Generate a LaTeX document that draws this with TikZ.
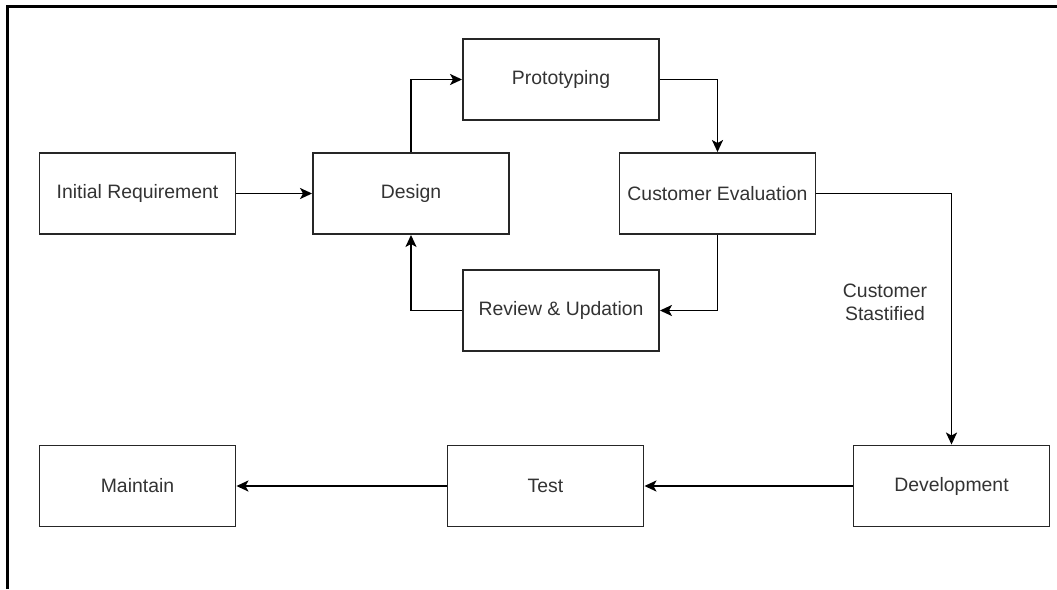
\documentclass[tikz,border=0pt]{standalone}
\usepackage{fontspec}
\setmainfont{Liberation Sans}
\usetikzlibrary{arrows.meta}
\definecolor{txt}{gray}{0.2}
\begin{document}
\begin{tikzpicture}[x=1pt,y=-1pt,
  box/.style={draw=black!85, line width=1.9pt, fill=white, minimum width=196pt, minimum height=81pt, inner sep=0pt,
    font=\fontsize{19.4}{23}\selectfont, text=txt},
  conn/.style={draw=black, line width=1.9pt, -{Stealth[length=12pt,width=11pt,inset=3pt]}},
  lbl/.style={font=\fontsize{19.4}{23}\selectfont, text=txt, align=center}]
\useasboundingbox (0,0) rectangle (1057,589);
\fill[white] (0,0) rectangle (1057,589);
\draw[line width=2.4pt, black] (7.5,589) -- (7.5,6.5) -- (1057,6.5);

\node[box] (init)   at (137.5,193.5) {Initial Requirement};
\node[box] (design) at (411,193.5)   {Design};
\node[box] (proto)  at (561,79.5)    {Prototyping};
\node[box] (ce)     at (717.5,193.5) {Customer Evaluation};
\node[box] (review) at (561,310.5)   {Review \& Updation};
\node[box] (dev)    at (951.5,486)   {Development};
\node[box] (test)   at (545.5,486)   {Test};
\node[box] (maint)  at (137.5,486)   {Maintain};

\draw[conn] (init.east) -- (design.west);
\draw[conn] (design.north) |- (proto.west);
\draw[conn] (proto.east) -| (ce.north);
\draw[conn] (ce.south) |- (review.east);
\draw[conn] (review.west) -| (design.south);
\draw[conn] (ce.east) -| (dev.north);
\draw[conn] (dev.west) -- (test.east);
\draw[conn] (test.west) -- (maint.east);

\node[lbl] (sat) at (885,302) {Customer\\Stastified};
\end{tikzpicture}
\end{document}
